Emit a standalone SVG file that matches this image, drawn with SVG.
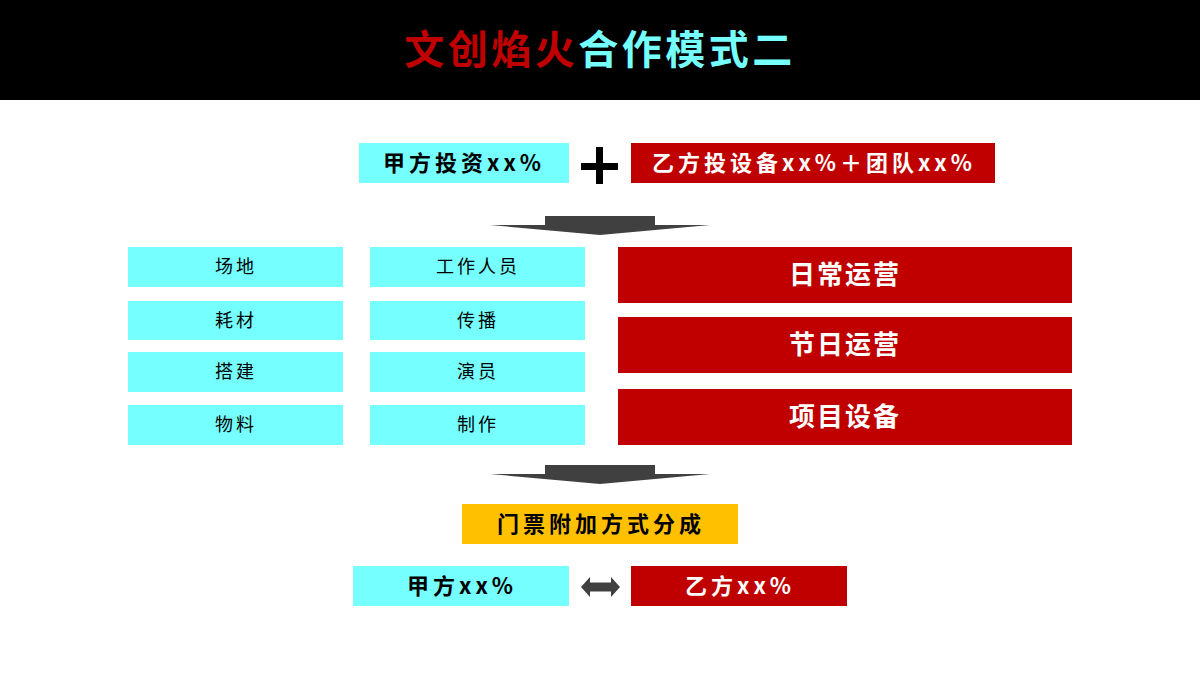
<svg xmlns="http://www.w3.org/2000/svg" width="1200" height="675" viewBox="0 0 1200 675">
<style>
  .cy { fill: #75FFFF; }
  .rd { fill: #C00000; }
  .yl { fill: #FFC000; }
  .dk { fill: #404040; }
  text { font-family: "Noto Sans CJK SC", "Noto Sans", sans-serif; text-anchor: middle; }
  .t-big { font-size: 22px; font-weight: bold; letter-spacing: 4px; }
  .t-sm { font-size: 18px; fill: #000; letter-spacing: 3px; }
  .t-red { font-size: 26px; font-weight: bold; fill: #fff; letter-spacing: 2px; }
  .blk { fill: #000; }
  .wht { fill: #fff; }
</style>
<rect x="0" y="0" width="1200" height="675" fill="#fff"/>
<g id="title">
  <rect x="0" y="0" width="1200" height="100" fill="#000"/>
  <text x="600" y="64" style="font-size:40px;font-weight:bold;letter-spacing:3.5px"><tspan fill="#C00000">文创焰火</tspan><tspan fill="#75FFFF">合作模式二</tspan></text>
</g>
<g id="party-a-invest">
  <rect class="cy" x="359" y="143" width="210" height="40"/>
  <text class="t-big blk" x="464" y="171">甲方投资xx%</text>
</g>
<g id="plus">
  <rect x="596" y="147" width="7" height="37" fill="#000"/>
  <rect x="581" y="163" width="37" height="7" fill="#000"/>
</g>
<g id="party-b-invest">
  <rect class="rd" x="631" y="143" width="364" height="40"/>
  <text class="t-big wht" x="814" y="171">乙方投设备xx%＋团队xx%</text>
</g>
<g id="connectors">
  <path class="dk" d="M545,216 H655 V225 H710 L600,235 L490,225 H545 Z"/>
  <path class="dk" d="M545,465 H655 V474 H710 L600,484 L490,474 H545 Z"/>
  <path class="dk" d="M581,587 L590,577 V582.5 H611 V577 L620,587 L611,597 V591.5 H590 V597 Z"/>
</g>
<g id="n-changdi"><rect class="cy" x="128" y="247" width="215" height="40"/><text class="t-sm" x="236" y="273">场地</text></g>
<g id="n-haocai"><rect class="cy" x="128" y="301" width="215" height="39"/><text class="t-sm" x="236" y="327">耗材</text></g>
<g id="n-dajian"><rect class="cy" x="128" y="352" width="215" height="40"/><text class="t-sm" x="236" y="378">搭建</text></g>
<g id="n-wuliao"><rect class="cy" x="128" y="405" width="215" height="40"/><text class="t-sm" x="236" y="431">物料</text></g>
<g id="n-staff"><rect class="cy" x="370" y="247" width="215" height="40"/><text class="t-sm" x="478" y="273">工作人员</text></g>
<g id="n-chuanbo"><rect class="cy" x="370" y="301" width="215" height="39"/><text class="t-sm" x="478" y="327">传播</text></g>
<g id="n-yanyuan"><rect class="cy" x="370" y="352" width="215" height="40"/><text class="t-sm" x="478" y="378">演员</text></g>
<g id="n-zhizuo"><rect class="cy" x="370" y="405" width="215" height="40"/><text class="t-sm" x="478" y="431">制作</text></g>
<g id="n-daily"><rect class="rd" x="618" y="247" width="454" height="56"/><text class="t-red" x="845" y="284">日常运营</text></g>
<g id="n-holiday"><rect class="rd" x="618" y="317" width="454" height="56"/><text class="t-red" x="845" y="354">节日运营</text></g>
<g id="n-equip"><rect class="rd" x="618" y="389" width="454" height="56"/><text class="t-red" x="845" y="426">项目设备</text></g>
<g id="n-share"><rect class="yl" x="462" y="504" width="276" height="40"/><text class="t-big blk" x="601" y="532">门票附加方式分成</text></g>
<g id="n-a-share"><rect class="cy" x="353" y="566" width="216" height="40"/><text class="t-big blk" x="462" y="594">甲方xx%</text></g>
<g id="n-b-share"><rect class="rd" x="631" y="566" width="216" height="40"/><text class="t-big wht" x="740" y="594">乙方xx%</text></g>
</svg>
